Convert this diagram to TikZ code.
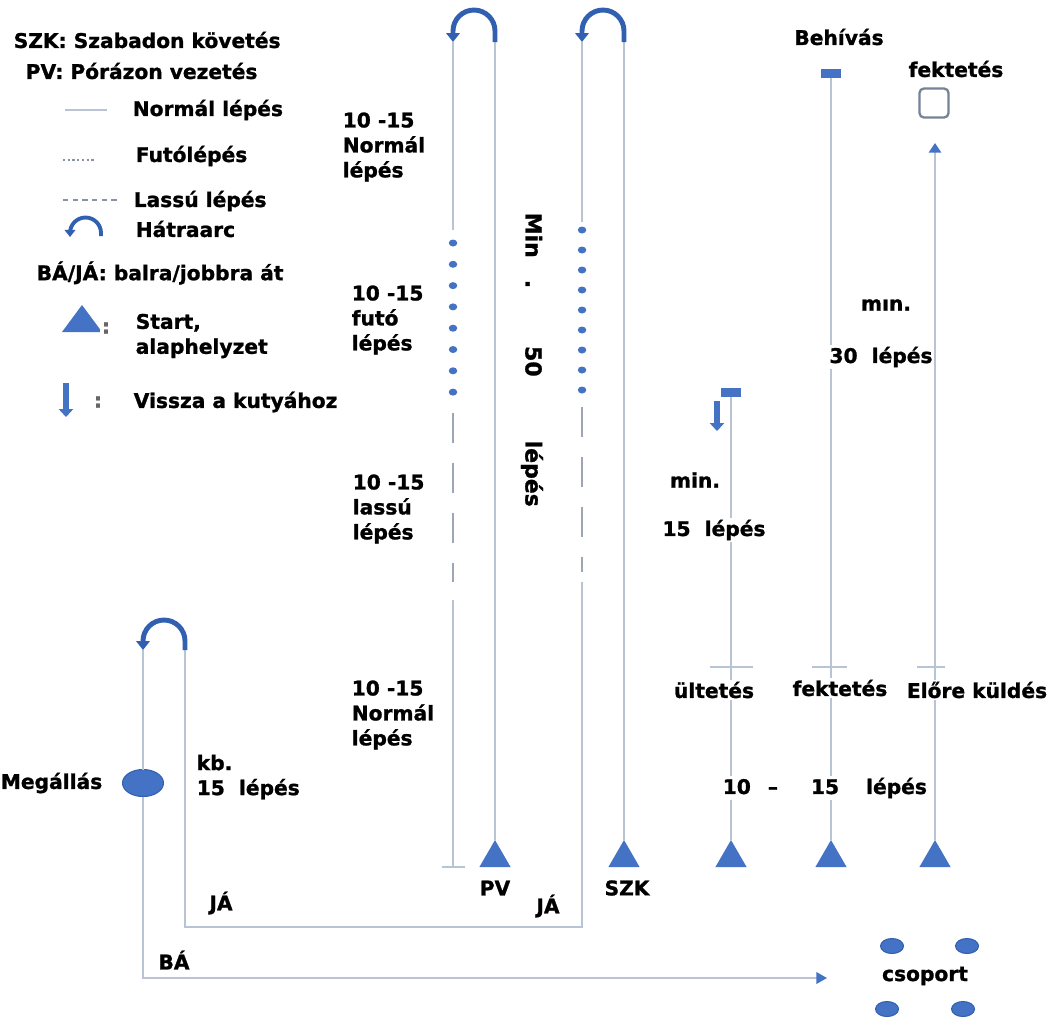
\documentclass[tikz,border=0pt]{standalone}
\usepackage{fontspec}
\newfontfamily\dejavu{DejaVu Sans Bold}[FakeBold=1.2]
\usetikzlibrary{arrows.meta,shapes.geometric}

\definecolor{pathgray}{RGB}{184,195,212}
\definecolor{markblue}{RGB}{68,114,196}
\definecolor{turnblue}{RGB}{50,96,176}
\definecolor{boxgray}{RGB}{118,130,150}
\newcommand{\lbfont}{\dejavu\fontsize{11.5}{14.2}\selectfont}

\begin{document}
\begin{tikzpicture}[x=0.02cm, y=-0.02cm]
        \tikzstyle{every node}=[font=\lbfont, inner sep=1pt, outer sep=0pt, text=black, fill=white]
        \tikzstyle{walk}=[pathgray, line width=1.1pt]
        \tikzstyle{slow}=[walk, pathgray!85!black, dash pattern=on 0.6cm off 0.4cm]
        \tikzstyle{turn}=[turnblue, line width=2.8pt, -{Triangle[width=7.5pt,length=5pt]}]
        \tikzstyle{back}=[markblue, line width=3.2pt, -{Triangle[width=8pt,length=4.5pt]}]
        \tikzstyle{start}=[regular polygon, regular polygon sides=3, fill=markblue, inner sep=0pt, minimum size=0.72cm]
        \tikzstyle{endmark}=[rectangle, fill=markblue, inner sep=0pt, minimum width=0.4cm, minimum height=0.18cm]
        \tikzstyle{run}=[ellipse, fill=markblue, inner sep=0pt, minimum width=0.17cm, minimum height=0.14cm]
        \tikzstyle{halt}=[ellipse, fill=markblue, draw=turnblue, line width=0.6pt, inner sep=0pt]
        \tikzstyle{vert}=[rotate=-90, font=\dejavu\fontsize{12.5}{15}\selectfont]

        \path[use as bounding box, fill=white] (0,0) rectangle (1053,1018);

        % start positions and marks
        \node[start] (pv)  at (495,858) {};
        \node[start] (szk) at (624,858) {};
        \node[start] (ult) at (731,858) {};
        \node[start] (fek) at (831,858) {};
        \node[start] (elo) at (935,858) {};

        \node[endmark] (behcap) at (831,73) {};
        \node[endmark] (ultcap) at (731,392) {};
        \node[draw=boxgray, line width=1.3pt, rounded corners=2.5pt, minimum size=0.58cm, inner sep=0pt] (box) at (934,103) {};

        \node[halt, minimum width=0.82cm, minimum height=0.54cm] (meg) at (143,783) {};
        \node[halt, minimum width=0.46cm, minimum height=0.3cm] (grp1) at (892,946) {};
        \node[halt, minimum width=0.46cm, minimum height=0.3cm] (grp2) at (967,946) {};
        \node[halt, minimum width=0.46cm, minimum height=0.3cm] (grp3) at (887,1009) {};
        \node[halt, minimum width=0.46cm, minimum height=0.3cm] (grp4) at (963,1009) {};

        \foreach \k in {0,...,7} \node[run] (pvrun\k) at (453,{243+21.3*\k}) {};
        \foreach \k in {0,...,8} \node[run] (szkrun\k) at (582,{230+20*\k}) {};

        % PV
        \coordinate (pvR) at (495,42);
        \coordinate (pvL) at (453,42);
        \coordinate (pvN) at (453,230);
        \coordinate (pvS1) at (453,413);
        \coordinate (pvS2) at (453,582);
        \coordinate (pvN2) at (453,600);
        \coordinate (pvE) at (453,867);
        \draw[walk] (pv.corner 1) -- (pvR);
        \draw[turn] (pvR) -- ++(0,-11) arc[start angle=0, end angle=180, radius=0.42cm] -- (pvL);
        \draw[walk] (pvL) -- (pvN);
        \draw[slow] (pvS1) -- (pvS2);
        \draw[walk] (pvN2) -- (pvE);
        \draw[walk] ([xshift=-0.23cm]pvE) -- ([xshift=0.23cm]pvE);

        % SZK
        \coordinate (szkR) at (624,42);
        \coordinate (szkL) at (582,42);
        \coordinate (szkN) at (582,222);
        \coordinate (szkS1) at (582,407);
        \coordinate (szkS2) at (582,572);
        \coordinate (szkN2) at (582,582);
        \coordinate (ja1) at (582,927);
        \coordinate (ja2) at (185,927);
        \coordinate (kbR) at (185,650);
        \coordinate (kbL) at (143,650);
        \coordinate (ba) at (143,978);
        \coordinate (grp) at (827,978);
        \draw[walk] (szk.corner 1) -- (szkR);
        \draw[turn] (szkR) -- ++(0,-11) arc[start angle=0, end angle=180, radius=0.42cm] -- (szkL);
        \draw[walk] (szkL) -- (szkN);
        \draw[slow] (szkS1) -- (szkS2);
        \draw[walk] (szkN2) -- (ja1) -- (ja2) -- (kbR);
        \draw[turn] (kbR) -- ++(0,-9) arc[start angle=0, end angle=180, radius=0.42cm] -- (kbL);
        \draw[walk] (kbL) -- (meg.north);
        \draw[walk, -{Triangle[width=6.5pt, length=6pt, color=markblue]}] (meg.south) -- (ba) -- (grp);

        % ultetes, behivas, elore kuldes
        \coordinate (ultStop) at (731,667);
        \coordinate (fekStop) at (831,667);
        \coordinate (eloStop) at (935,667);
        \coordinate (eloTip) at (935,143);
        \draw[walk] (ult.corner 1) -- (ultcap.south);
        \draw[walk] (fek.corner 1) -- (behcap.south);
        \draw[walk, -{Triangle[width=7pt, length=5.5pt, color=markblue]}] (elo.corner 1) -- (eloTip);
        \draw[walk] ([xshift=-0.42cm]ultStop) -- ([xshift=0.44cm]ultStop);
        \draw[walk] ([xshift=-0.38cm]fekStop) -- ([xshift=0.32cm]fekStop);
        \draw[walk] ([xshift=-0.36cm]eloStop) -- ([xshift=0.2cm]eloStop);
        \coordinate (visszaTop) at (717,401);
        \coordinate (visszaEnd) at (717,431);
        \draw[back] (visszaTop) -- (visszaEnd);

        % legend
        \node[anchor=west] (szkdef) at (12,40) {SZK: Szabadon követés};
        \node[anchor=west] (pvdef) at (24,71) {PV: Pórázon vezetés};
        \draw[walk] (65,110) -- (107,110);
        \node[anchor=west] (normdef) at (131,110) {Normál lépés};
        \draw[pathgray!75!black, line width=1.2pt, dash pattern=on 1.2pt off 1.5pt] (63,160) -- (95,160);
        \node[anchor=west] (rundef) at (134,156) {Futólépés};
        \draw[pathgray!75!black, line width=1.2pt, dash pattern=on 3pt off 2.5pt] (63,200) -- (119,200);
        \node[anchor=west] (slowdef) at (132,201) {Lassú lépés};
        \draw[turn, line width=2.2pt, -{Triangle[width=6pt,length=4pt]}] (101,236) -- ++(0,-3) arc[start angle=0, end angle=180, radius=0.31cm] -- ++(0,4);
        \node[anchor=west] (turndef) at (134,229) {Hátraarc};
        \node[anchor=west] (badef) at (35,273) {BÁ/JÁ: balra/jobbra át};
        \fill[markblue] (62,332) -- (82,305) -- (102,332) -- cycle;
        \node[text=black!60] (startcolon) at (106,328) {:};
        \node[anchor=west, align=left] (startdef) at (134,336) {Start,\\alaphelyzet};
        \draw[back] (66,383) -- (66,417);
        \node[text=black!60] (backcolon) at (98,402) {:};
        \node[anchor=west] (backdef) at (132,402) {Vissza a kutyához};

        % step counts
        \node[align=left, anchor=west] (seg1) at (341,147) {10 -15\\Normál\\lépés};
        \node[align=left, anchor=west] (seg2) at (350,320) {10 -15\\futó\\lépés};
        \node[align=left, anchor=west] (seg3) at (351,509) {10 -15\\lassú\\lépés};
        \node[align=left, anchor=west] (seg4) at (350,715) {10 -15\\Normál\\lépés};
        \node[vert, anchor=west] (min50) at (532,211) {Min\hspace{0.44cm}.\hspace{1.16cm}50\hspace{1.28cm}lépés};

        \node[anchor=east] (megall) at (104,783) {Megállás};
        \node[align=left, anchor=west] (kb) at (195,777) {kb.\\15~ lépés};
        \node (pvlab) at (495,888) {PV};
        \node (szklab) at (627,888) {SZK};
        \node (ja1lab) at (221,903) {JÁ};
        \node (ja2lab) at (548,906) {JÁ};
        \node (balab) at (174,960) {BÁ};
        \node (grplab) at (925,976) {csoport};

        \node (behlab) at (839,37) {Behívás};
        \node (fek1lab) at (956,69) {fektetés};
        \node (min30) at (886,305) {mın.};
        \node (lep30) at (881,357) {30~ lépés};
        \node (min15) at (695,480) {min.};
        \node (lep15) at (714,530) {15~ lépés};
        \node (ultlab) at (714,690) {ültetés};
        \node (feklab) at (840,688) {fektetés};
        \node (elolab) at (977,690) {Előre küldés};
        \node[anchor=west] (step10) at (721,788) {10\hspace{0.34cm}–\hspace{0.66cm}15\hspace{0.54cm}lépés};
\end{tikzpicture}
\end{document}
